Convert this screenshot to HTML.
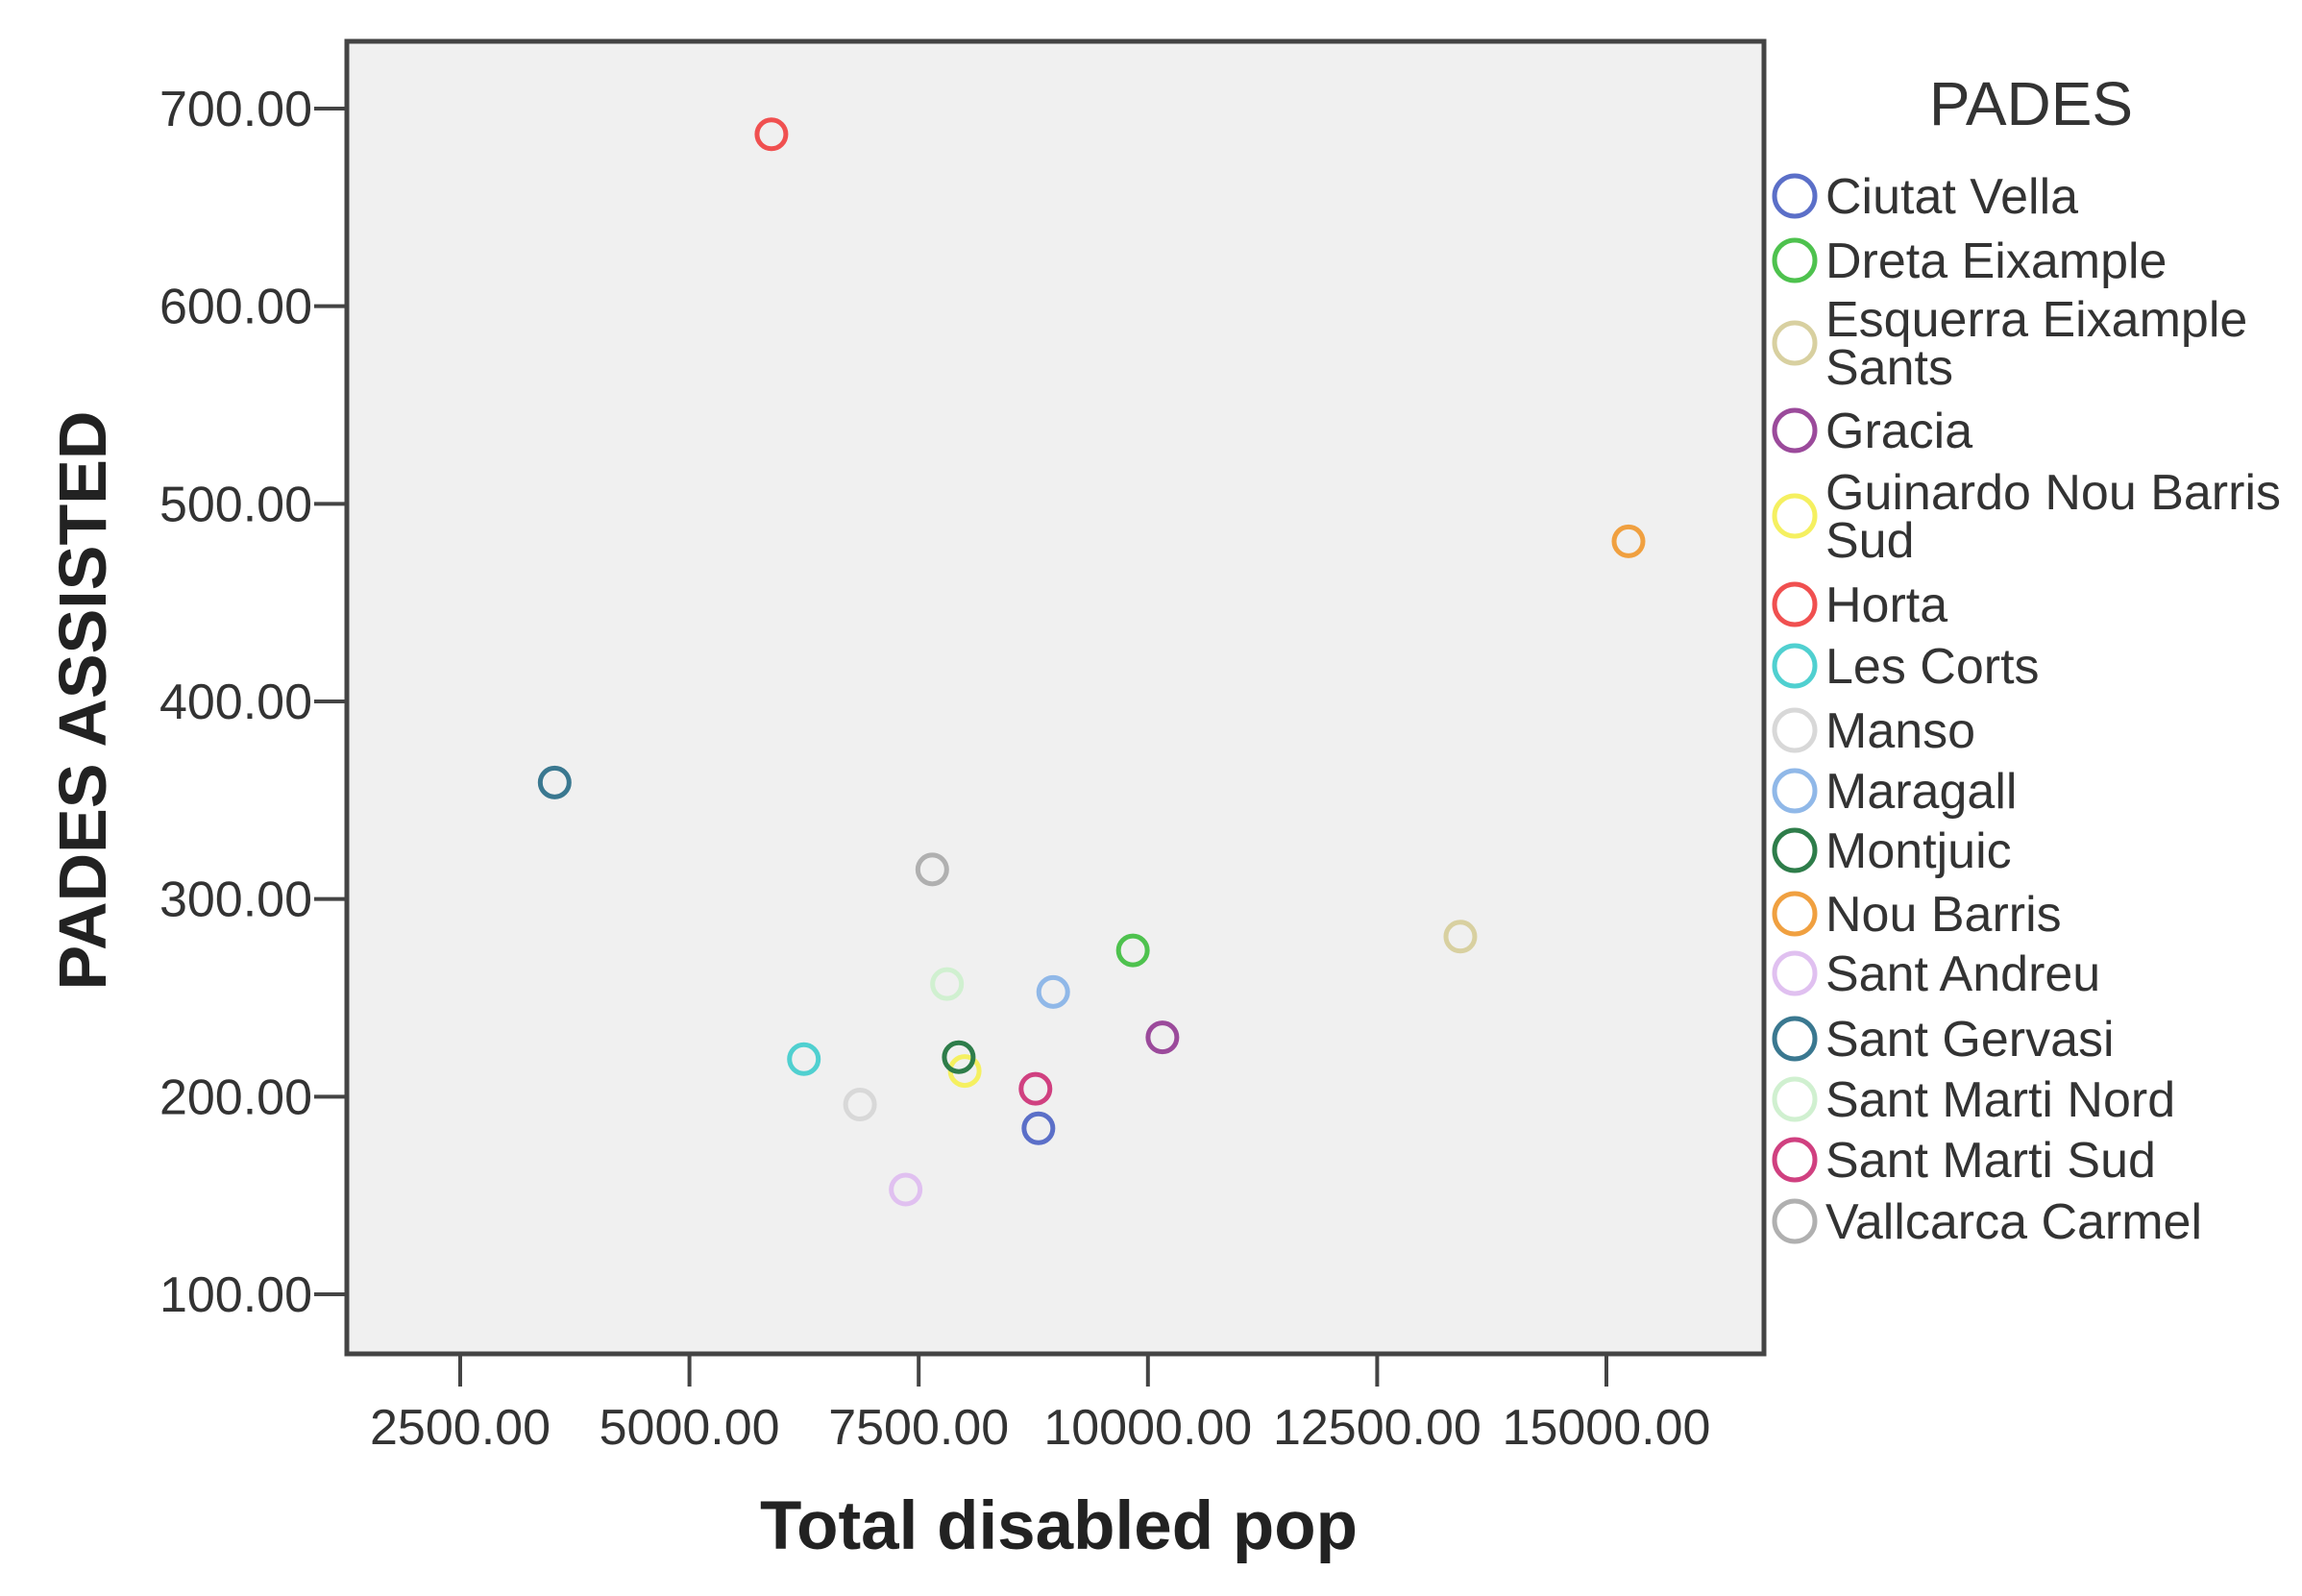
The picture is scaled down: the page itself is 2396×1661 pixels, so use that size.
<!DOCTYPE html>
<html><head><meta charset="utf-8"><style>
html,body{margin:0;padding:0;background:#fff;}
svg text{font-family:"Liberation Sans",sans-serif;}
</style></head><body>
<svg id="chart" width="2396" height="1656" viewBox="0 0 2396 1656" xmlns="http://www.w3.org/2000/svg">
<rect x="0" y="0" width="2396" height="1656" fill="#fff"/>
<rect x="361" y="43" width="1475" height="1366" fill="#f0f0f0" stroke="#444" stroke-width="5"/>
<g id="yaxis"></g>
<g id="xaxis"></g>
<g id="points"></g>
<g id="legend">
<text x="2114" y="130" font-size="64" fill="#333" text-anchor="middle">PADES</text>
</g>
<text x="1102" y="1612" font-size="71" font-weight="bold" fill="#222" text-anchor="middle">Total disabled pop</text>
<text transform="translate(110,729) rotate(-90)" font-size="70" font-weight="bold" fill="#222" text-anchor="middle">PADES ASSISTED</text>
</svg>
<script>
const categories = ["Ciutat Vella","Dreta Eixample","Esquerra Eixample Sants","Gracia","Guinardo Nou Barris Sud","Horta","Les Corts","Manso","Maragall","Montjuic","Nou Barris","Sant Andreu","Sant Gervasi","Sant Marti Nord","Sant Marti Sud","Vallcarca Carmel"];
const xValues = [8806,9836,13407,10158,8002,5894,6248,6860,8967,7937,15241,7358,3530,7809,8774,7648];
const yValues = [184,274,281,230,213,687,219,196,253,220,481,153,359,257,204,315];
const colors = ["#5b6fc8","#4ec24e","#d8d0a0","#9b4a9b","#f5f060","#f05050","#50d0d0","#d8d8d8","#90b8e8","#2e7d4a","#f0a040","#e0c0f0","#3a7890","#d0f0d0","#d04080","#b0b0b0"];
const xTicks = [2500,5000,7500,10000,12500,15000];
const yTicks = [100,200,300,400,500,600,700];
const NS="http://www.w3.org/2000/svg";
function xs(v){return 479+(v-2500)*(1672-479)/12500;}
function ys(v){return 1347-(v-100)*(1347-113)/600;}
function mk(t,a){const e=document.createElementNS(NS,t);for(const k in a)e.setAttribute(k,a[k]);return e;}
const ya=document.getElementById('yaxis');
yTicks.forEach(v=>{
  const l=mk('line',{x1:327,x2:361,y1:ys(v),y2:ys(v),stroke:'#444','stroke-width':4});
  
  
  ya.appendChild(l);
  const t=mk('text',{x:325,y:ys(v)+18,'font-size':52,fill:'#333','text-anchor':'end'});
  
  
  t.textContent=v.toFixed(2);ya.appendChild(t);
});
const xa=document.getElementById('xaxis');
xTicks.forEach(v=>{
  const l=mk('line',{x1:xs(v),x2:xs(v),y1:1409,y2:1443,stroke:'#444','stroke-width':4});
  
  
  xa.appendChild(l);
  const t=mk('text',{x:xs(v),y:1503,'font-size':52,fill:'#333','text-anchor':'middle'});
  
  
  t.textContent=v.toFixed(2);xa.appendChild(t);
});
const pg=document.getElementById('points');
categories.forEach((c,i)=>{
  const p=mk('circle',{cx:xs(xValues[i]),cy:ys(yValues[i]),r:15,fill:'none',stroke:colors[i],'stroke-width':5});
  
  
  pg.appendChild(p);
});
const lg=document.getElementById('legend');
const legY=[204,271,357,448,537,629,693,760,823,885,951,1013,1081,1144,1207,1271];
categories.forEach((c,i)=>{
  const g=mk('g',{});
  
  
  const y=legY[i];
  g.appendChild(mk('circle',{cx:1868,cy:y,r:21,fill:'none',stroke:colors[i],'stroke-width':5}));
  const t=mk('text',{x:1900,y:y+18,'font-size':52,fill:'#333'});
  if(c==="Esquerra Eixample Sants"||c==="Guinardo Nou Barris Sud"){
    const parts=c==="Esquerra Eixample Sants"?["Esquerra Eixample","Sants"]:["Guinardo Nou Barris","Sud"];
    const a=mk('tspan',{x:1900,dy:-25});a.textContent=parts[0];
    const b=mk('tspan',{x:1900,dy:50});b.textContent=parts[1];
    t.appendChild(a);t.appendChild(b);
  } else t.textContent=c;
  g.appendChild(t);lg.appendChild(g);
});
</script>
</body></html>
